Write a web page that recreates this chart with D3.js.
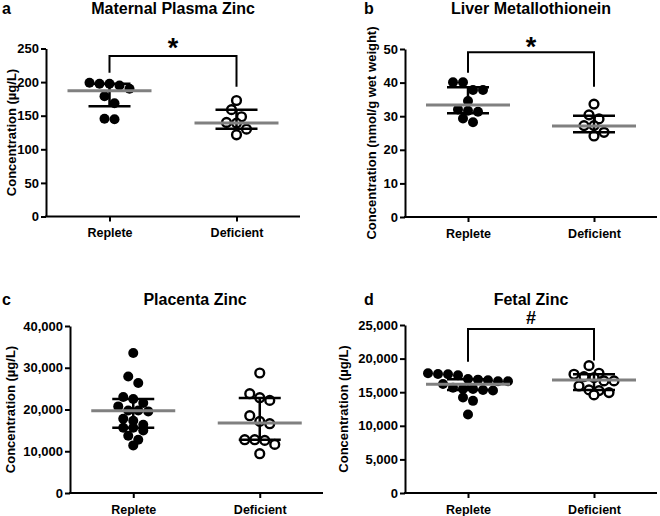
<!DOCTYPE html>
<html><head><meta charset="utf-8">
<script src="https://cdn.jsdelivr.net/npm/d3@7"></script>
<style>
html,body{margin:0;padding:0;background:#fff;}
text{font-family:"Liberation Sans",Arial,Helvetica,sans-serif;font-weight:bold;fill:#000;}
</style></head>
<body><svg id="chart" width="660" height="516"></svg>
<script>
// ---------- DATA ----------
const groups = ["Replete", "Deficient"];

// a. Maternal Plasma Zinc (µg/L)
const plasmaReplete = [199, 197.5, 197.5, 195, 190, 179, 168.6, 145.5, 144.6];
const plasmaDeficient = [172.6, 159, 148.4, 140, 139, 130, 121.6];
const plasmaCenter = [187, 139];
const plasmaLow = [164, 130.5];
const plasmaHigh = [197.5, 159];
const plasmaTicks = [0, 50, 100, 150, 200, 250];
const plasmaBracket = [239, 214, 193];

// b. Liver Metallothionein (nmol/g wet weight)
const liverReplete = [40.1, 40.1, 37.8, 37.8, 34.5, 32, 31.6, 31.3, 29.3, 28.2];
const liverDeficient = [33.6, 30.4, 29.2, 27.2, 27.2, 25.2, 24.1];
const liverCenter = [33.3, 27.1];
const liverLow = [30.9, 25.2];
const liverHigh = [38.6, 30.1];
const liverTicks = [0, 10, 20, 30, 40, 50];
const liverBracket = [49, 42.9, 38.8];

// c. Placenta Zinc (µg/L)
const placentaReplete = [33530, 27925, 26345, 22990, 22510, 21555, 20740, 19780, 19780, 19545,
  17795, 17315, 16360, 15640, 15640, 14995, 13720, 12765, 11400];
const placentaDeficient = [28740, 23780, 22825, 22180, 18510, 17150, 16600, 12765, 12765, 12600, 11640, 9410];
const placentaCenter = [19710, 16765];
const placentaLow = [15640, 12765];
const placentaHigh = [22510, 22750];
const placentaTicks = [0, 10000, 20000, 30000, 40000];

// d. Fetal Zinc (µg/L)
const fetalReplete = [17820, 17715, 17670, 17520, 16970, 16870, 16780, 16630, 16630, 16230,
  15680, 15490, 15490, 15340, 15240, 14200, 13710, 11670];
const fetalDeficient = [18950, 17820, 17670, 17320, 17170, 16680, 16680, 15930, 15340, 15240, 14940, 14600];
const fetalCenter = [16190, 16830];
const fetalLow = [15340, 15340];
const fetalHigh = [16930, 17670];
const fetalTicks = [0, 5000, 10000, 15000, 20000, 25000];
const fetalBracket = [24400, 19540, 19700];

// ---------- DRAW ----------
const svg = d3.select("#chart");
const FONT = '"Liberation Sans",Arial,sans-serif';

function drawPanel(p) {
  const g = svg.append("g");
  const x = d3.scalePoint().domain(groups).range([p.x0, p.x1]).padding(0.5);
  const y = d3.scaleLinear().domain([0, d3.max(p.ticks)]).range([p.yBot, p.yTop]);

  // letter + title
  g.append("text").attr("x", p.letterX).attr("y", p.titleY).attr("font-size", 16).text(p.letter);
  g.append("text").attr("x", p.titleX).attr("y", p.titleY).attr("font-size", 16)
    .attr("text-anchor", "middle").text(p.title);

  // y axis
  const ya = g.append("g").attr("transform", `translate(${p.x0},0)`)
    .call(d3.axisLeft(y).tickValues(p.ticks).tickSize(5).tickSizeOuter(0).tickPadding(2)
      .tickFormat(p.fmt));
  ya.selectAll("path,line").attr("stroke", "#000").attr("stroke-width", 2);
  ya.selectAll("text").style("font-size", "13px").style("font-family", FONT).style("font-weight", "bold");

  // x axis
  const xa = g.append("g").attr("transform", `translate(0,${p.yBot})`)
    .call(d3.axisBottom(x).tickSize(5).tickSizeOuter(0).tickPadding(7));
  xa.selectAll("path,line").attr("stroke", "#000").attr("stroke-width", 2);
  xa.select("path.domain").attr("d", `M${p.x0 - 1},0H${p.x1}`);
  xa.selectAll("text").style("font-size", "12.5px").style("font-family", FONT).style("font-weight", "bold");

  // y title
  g.append("text").attr("transform", `translate(${p.yTitleX},${(p.yTop + p.yBot) / 2}) rotate(-90)`)
    .attr("text-anchor", "middle").attr("font-size", 13).text(p.yTitle);

  // points (row-binned scatter)
  const r = 4.4, step = 10, rowH = 8;
  p.series.forEach((vals, gi) => {
    const cx = x(groups[gi]);
    const sorted = vals.slice().sort((a, b) => b - a).map(v => ({ v, py: y(v) }));
    const rows = [];
    sorted.forEach(d => {
      const last = rows[rows.length - 1];
      if (last && d.py - last[0].py < rowH) last.push(d); else rows.push([d]);
    });
    const pts = [];
    rows.forEach(row => {
      const n = row.length;
      row.forEach((d, i) => pts.push({ px: cx + (i - (n - 1) / 2) * step, py: d.py }));
    });
    g.selectAll(null).data(pts).join("circle")
      .attr("cx", d => d.px).attr("cy", d => d.py).attr("r", gi === 0 ? r + 0.6 : r)
      .attr("fill", gi === 0 ? "#000" : "#fff")
      .attr("stroke", gi === 0 ? "none" : "#000").attr("stroke-width", 2.4);

    // error bar
    const ly = y(p.low[gi]), hy = y(p.high[gi]);
    g.append("line").attr("x1", cx).attr("x2", cx).attr("y1", ly).attr("y2", hy)
      .attr("stroke", "#000").attr("stroke-width", 2.5);
    [ly, hy].forEach(yy => g.append("line").attr("x1", cx - 21).attr("x2", cx + 21)
      .attr("y1", yy).attr("y2", yy).attr("stroke", "#000").attr("stroke-width", 2.5));
    // center line
    g.append("line").attr("x1", cx - 42).attr("x2", cx + 42)
      .attr("y1", y(p.center[gi])).attr("y2", y(p.center[gi]))
      .attr("stroke", "#808080").attr("stroke-width", 3);
  });

  // significance bracket
  if (p.bracket) {
    const [top, e1, e2] = p.bracket;
    const xa1 = x(groups[0]), xa2 = x(groups[1]);
    g.append("path").attr("fill", "none").attr("stroke", "#000").attr("stroke-width", 2)
      .attr("d", `M${xa1},${y(e1)}V${y(top)}H${xa2}V${y(e2)}`);
    g.append("text").attr("x", (xa1 + xa2) / 2).attr("y", y(top) + p.markDy)
      .attr("text-anchor", "middle").attr("font-size", p.markSize).text(p.mark);
  }
}

const commaFmt = d3.format(",");
const plainFmt = d3.format("d");

drawPanel({ letter: "a", letterX: 2, title: "Maternal Plasma Zinc", titleX: 173, titleY: 14,
  x0: 46, x1: 300, yTop: 48.5, yBot: 216.5, ticks: plasmaTicks, fmt: plainFmt,
  yTitle: "Concentration (µg/L)", yTitleX: 16,
  series: [plasmaReplete, plasmaDeficient], center: plasmaCenter, low: plasmaLow, high: plasmaHigh,
  bracket: plasmaBracket, mark: "*", markSize: 27, markDy: 1 });

drawPanel({ letter: "b", letterX: 364, title: "Liver Metallothionein", titleX: 531, titleY: 14,
  x0: 405, x1: 657, yTop: 49, yBot: 217, ticks: liverTicks, fmt: plainFmt,
  yTitle: "Concentration (nmol/g wet weight)", yTitleX: 376,
  series: [liverReplete, liverDeficient], center: liverCenter, low: liverLow, high: liverHigh,
  bracket: liverBracket, mark: "*", markSize: 27, markDy: 4 });

drawPanel({ letter: "c", letterX: 2, title: "Placenta Zinc", titleX: 195, titleY: 305,
  x0: 70, x1: 323, yTop: 326, yBot: 493, ticks: placentaTicks, fmt: commaFmt,
  yTitle: "Concentration (µg/L)", yTitleX: 15,
  series: [placentaReplete, placentaDeficient], center: placentaCenter, low: placentaLow, high: placentaHigh });

drawPanel({ letter: "d", letterX: 364, title: "Fetal Zinc", titleX: 531, titleY: 305,
  x0: 405, x1: 657, yTop: 325, yBot: 493, ticks: fetalTicks, fmt: commaFmt,
  yTitle: "Concentration (µg/L)", yTitleX: 348,
  series: [fetalReplete, fetalDeficient], center: fetalCenter, low: fetalLow, high: fetalHigh,
  bracket: fetalBracket, mark: "#", markSize: 18, markDy: -5 });
</script></body></html>
